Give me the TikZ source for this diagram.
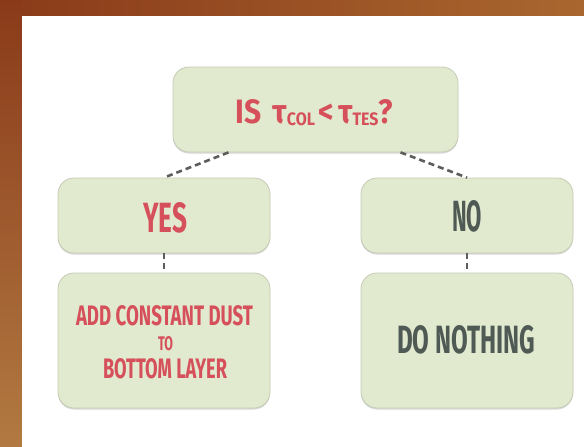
\documentclass[tikz,border=0pt]{standalone}
\usepackage{fontspec}
\usepackage{graphicx}
\setmainfont{Fira Sans}
\newfontfamily\cond[FakeStretch=0.62]{Fira Sans}
\usetikzlibrary{shadows}
\definecolor{boxfill}{HTML}{E1E9CF}
\definecolor{boxline}{HTML}{C5CCB5}
\definecolor{txtred}{HTML}{D6505B}
\definecolor{txtgray}{HTML}{4F5A55}
\definecolor{dashc}{HTML}{5B5E5A}
\definecolor{brownA}{HTML}{8A3A19}
\definecolor{brownB}{HTML}{A9672F}
\definecolor{brownC}{HTML}{B27A42}
\newcommand{\fitline}[3]{\resizebox{#1}{#2}{\cond\bfseries\fontsize{30}{30}\selectfont #3}}
\newcommand{\subtxt}[1]{\raisebox{-2.5pt}{\fontsize{16}{16}\selectfont #1}}
\begin{document}
\begin{tikzpicture}[x=1pt,y=-1pt,
  box/.style={draw=boxline, line width=0.8pt, fill=boxfill, rounded corners=16pt,
    inner sep=0pt, drop shadow={shadow xshift=0pt, shadow yshift=-1.5pt, opacity=0.25, fill=black!60}},
  link/.style={draw=dashc, line width=2.6pt, dash pattern=on 6pt off 4pt},
  lbl/.style={inner sep=0pt, anchor=base}]
\useasboundingbox (0,0) rectangle (584,447);
\shade[left color=brownA, right color=brownB] (0,0) rectangle (584,447);
\shade[top color=brownA, bottom color=brownC] (0,0) rectangle (22,447);
\fill[white] (22,16) rectangle (584,447);

\node[box, minimum width=285pt, minimum height=85pt] (top) at (315.5,109.5) {};
\node[box, minimum width=212pt, minimum height=75pt] (yes) at (164,215.5) {};
\node[box, minimum width=212pt, minimum height=135pt] (act) at (164,340.5) {};
\node[box, minimum width=212pt, minimum height=75pt] (no) at (467,215.5) {};
\node[box, minimum width=212pt, minimum height=135pt] (dn) at (467,340.5) {};

\draw[link] ([xshift=-87pt]top.south) -- (yes.north);
\draw[link] ([xshift=85pt]top.south) -- (no.north);
\draw[link] (yes.south) -- (act.north);
\draw[link] (no.south) -- (dn.north);

\node[lbl, text=txtred] (qtxt) at (314.5,123) {\fitline{157pt}{24pt}{IS\hspace{0.22em}τ\subtxt{COL}\hspace{0.08em}<\hspace{0.08em}τ\subtxt{TES}?}};
\node[lbl, text=txtred] (yestxt) at (165,232) {\fitline{44pt}{30pt}{YES}};
\node[lbl, text=txtgray] (notxt) at (467,231) {\fitline{30pt}{31pt}{NO}};
\node[lbl, text=txtred] (act1) at (164.5,325) {\fitline{177pt}{20pt}{ADD CONSTANT DUST}};
\node[lbl, text=txtred] (act2) at (165.5,350) {\fitline{15pt}{14pt}{TO}};
\node[lbl, text=txtred] (act3) at (165,378) {\fitline{124pt}{20pt}{BOTTOM LAYER}};
\node[lbl, text=txtgray] (dntxt) at (466,353) {\fitline{138pt}{28pt}{DO NOTHING}};
\end{tikzpicture}
\end{document}
